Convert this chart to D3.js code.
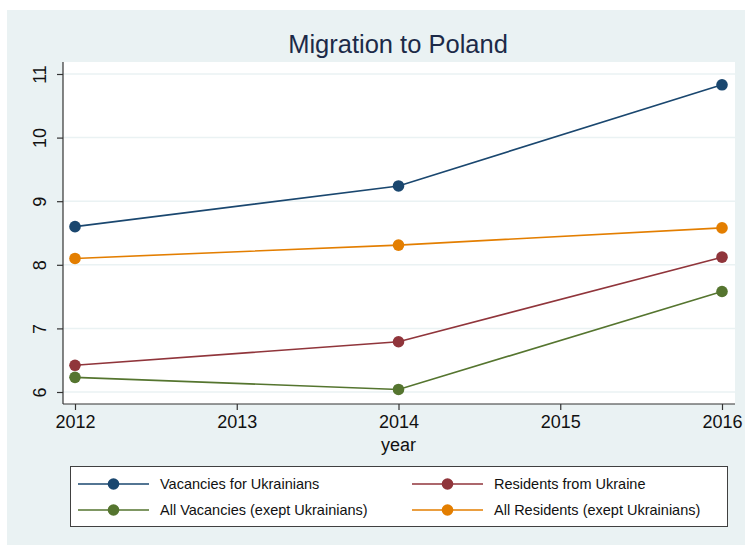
<!DOCTYPE html>
<html>
<head>
<meta charset="utf-8">
<script src="https://cdn.jsdelivr.net/npm/d3@7"></script>
<style>
  html, body { margin: 0; padding: 0; background: #ffffff; }
  svg { display: block; font-family: "Liberation Sans", Arial, Helvetica, sans-serif; }
</style>
</head>
<body>
<svg id="chart" width="745" height="545"></svg>
<script>
// Survey years on the x axis
const years = [2012, 2014, 2016];
const xTicks = [2012, 2013, 2014, 2015, 2016];
const yTicks = [6, 7, 8, 9, 10, 11];

// Series values (log scale counts)
const vacanciesUkr = [8.60, 9.24, 10.83];
const residentsUkr = [6.42, 6.79, 8.12];
const vacanciesOther = [6.23, 6.04, 7.58];
const residentsOther = [8.10, 8.31, 8.58];

const seriesNames = [
  "Vacancies for Ukrainians",
  "Residents from Ukraine",
  "All Vacancies (exept Ukrainians)",
  "All Residents (exept Ukrainians)"
];
const seriesColors = ["#1a476f", "#90353b", "#55752f", "#e37e00"];
const seriesValues = [vacanciesUkr, residentsUkr, vacanciesOther, residentsOther];

const series = seriesNames.map((name, i) => ({
  name, color: seriesColors[i],
  points: years.map((yr, j) => ({ year: yr, value: seriesValues[i][j] }))
}));

const svg = d3.select("#chart");
const W = 745, H = 545;

// graph region background
svg.append("rect")
  .attr("x", 7).attr("y", 10).attr("width", W - 7).attr("height", H - 10)
  .attr("fill", "#eaf2f3");

// plot region
const plot = { left: 63, right: 735, top: 62, bottom: 404 };
svg.append("rect")
  .attr("x", plot.left).attr("y", plot.top)
  .attr("width", plot.right - plot.left).attr("height", plot.bottom - plot.top)
  .attr("fill", "#ffffff");

const x = d3.scaleLinear().domain([2012, 2016]).range([75, 722]);
const y = d3.scaleLinear().domain([6, 11]).range([392, 74]);

// gridlines
svg.append("g")
  .selectAll("line").data(yTicks).join("line")
  .attr("x1", plot.left).attr("x2", plot.right)
  .attr("y1", d => y(d)).attr("y2", d => y(d))
  .attr("stroke", "#eaf2f3").attr("stroke-width", 1.5);

// y axis
const yAxis = svg.append("g")
  .attr("transform", `translate(${plot.left},0)`)
  .call(d3.axisLeft(y).tickValues(yTicks).tickSize(6).tickPadding(0).tickFormat(d3.format("d")));
yAxis.select(".domain").attr("d", `M0,${plot.top}V${plot.bottom}`).attr("stroke", "#333").attr("stroke-width", 1.2);
yAxis.selectAll(".tick line").attr("stroke", "#333").attr("stroke-width", 1.2);
yAxis.selectAll(".tick text")
  .attr("font-size", 18).attr("fill", "#111")
  .attr("x", 0).attr("y", 0).attr("dy", null)
  .attr("text-anchor", "middle")
  .attr("dominant-baseline", "central")
  .attr("transform", "translate(-23,0) rotate(-90)");

// x axis
const xAxis = svg.append("g")
  .attr("transform", `translate(0,${plot.bottom})`)
  .call(d3.axisBottom(x).tickValues(xTicks).tickSize(6).tickPadding(5).tickFormat(d3.format("d")));
xAxis.select(".domain").attr("d", `M${plot.left},0H${plot.right}`).attr("stroke", "#333").attr("stroke-width", 1.2);
xAxis.selectAll(".tick line").attr("stroke", "#333").attr("stroke-width", 1.2);
xAxis.selectAll(".tick text").attr("font-size", 18).attr("fill", "#111").attr("dy", "0.72em");

// axis title
svg.append("text")
  .attr("x", x(2014)).attr("y", 451)
  .attr("text-anchor", "middle").attr("font-size", 18).attr("fill", "#111")
  .text("year");

// chart title
svg.append("text")
  .attr("x", 398).attr("y", 53)
  .attr("text-anchor", "middle").attr("font-size", 25.5).attr("fill", "#1c2a48")
  .text("Migration to Poland");

// series lines and markers
const line = d3.line().x(d => x(d.year)).y(d => y(d.value));
const sg = svg.append("g").selectAll("g").data(series).join("g");
sg.append("path")
  .attr("d", d => line(d.points))
  .attr("fill", "none").attr("stroke", d => d.color).attr("stroke-width", 1.6);
sg.selectAll("circle").data(d => d.points.map(p => ({ ...p, color: d.color }))).join("circle")
  .attr("cx", d => x(d.year)).attr("cy", d => y(d.value)).attr("r", 5.8)
  .attr("fill", d => d.color);

// legend
const legend = svg.append("g");
legend.append("rect")
  .attr("x", 70.5).attr("y", 466.5).attr("width", 657).attr("height", 60)
  .attr("fill", "#ffffff").attr("stroke", "#404040").attr("stroke-width", 1);

const legendPos = [
  { lx: 78, ly: 484 }, { lx: 412, ly: 484 },
  { lx: 78, ly: 510 }, { lx: 412, ly: 510 }
];
const items = legend.selectAll("g.item").data(series).join("g")
  .attr("class", "item")
  .attr("transform", (d, i) => `translate(${legendPos[i].lx},${legendPos[i].ly})`);
items.append("line")
  .attr("x1", 0).attr("x2", 71).attr("y1", 0).attr("y2", 0)
  .attr("stroke", d => d.color).attr("stroke-width", 1.6);
items.append("circle")
  .attr("cx", 35.5).attr("cy", 0).attr("r", 5.8).attr("fill", d => d.color);
items.append("text")
  .attr("x", 82).attr("y", 0).attr("dy", "0.35em")
  .attr("font-size", 14.5).attr("fill", "#111")
  .text(d => d.name);
</script>
</body>
</html>
